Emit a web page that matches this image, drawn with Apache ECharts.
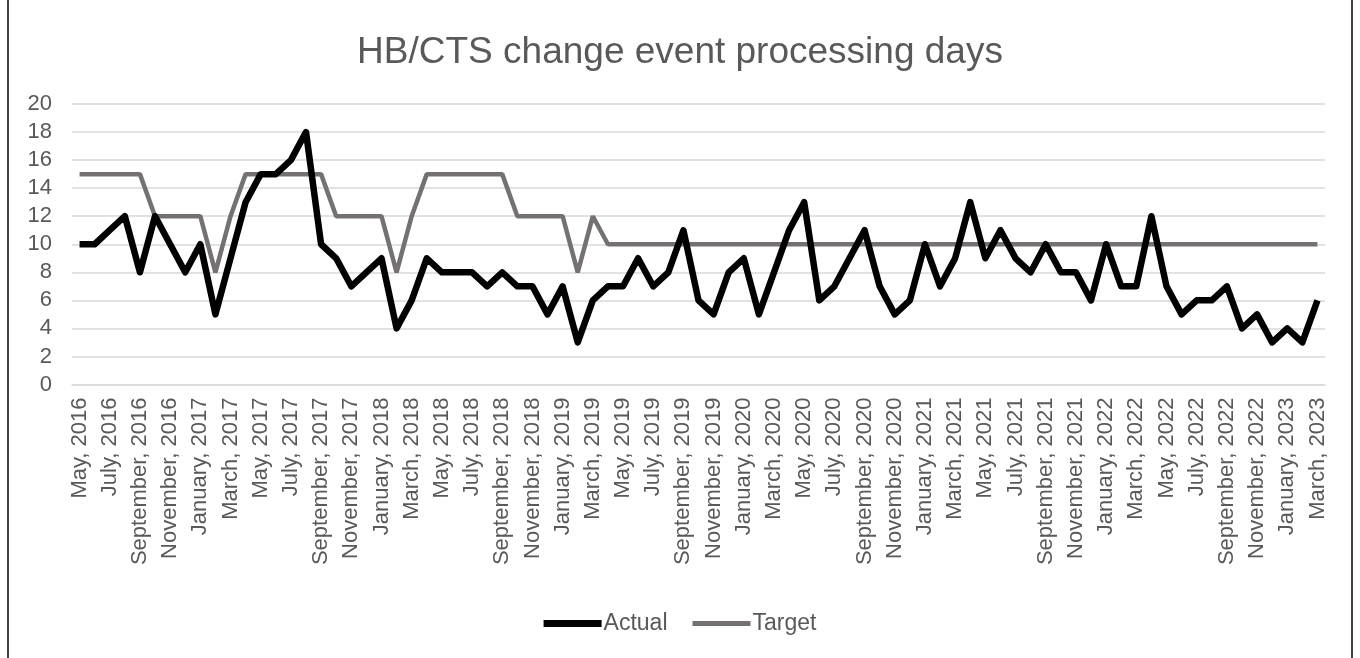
<!DOCTYPE html>
<html>
<head>
<meta charset="utf-8">
<script src="https://cdn.jsdelivr.net/npm/echarts@6/dist/echarts.min.js"></script>
<style>
  html, body { margin: 0; padding: 0; background: #fff; }
  #chart { width: 1360px; height: 658px; }
</style>
</head>
<body>
<div id="chart"></div>
<script>
// months, May 2016 .. March 2023
var months = [
  "May, 2016", "June, 2016", "July, 2016", "August, 2016", "September, 2016", "October, 2016", "November, 2016", "December, 2016",
  "January, 2017", "February, 2017", "March, 2017", "April, 2017", "May, 2017", "June, 2017", "July, 2017", "August, 2017",
  "September, 2017", "October, 2017", "November, 2017", "December, 2017",
  "January, 2018", "February, 2018", "March, 2018", "April, 2018", "May, 2018", "June, 2018", "July, 2018", "August, 2018",
  "September, 2018", "October, 2018", "November, 2018", "December, 2018",
  "January, 2019", "February, 2019", "March, 2019", "April, 2019", "May, 2019", "June, 2019", "July, 2019", "August, 2019",
  "September, 2019", "October, 2019", "November, 2019", "December, 2019",
  "January, 2020", "February, 2020", "March, 2020", "April, 2020", "May, 2020", "June, 2020", "July, 2020", "August, 2020",
  "September, 2020", "October, 2020", "November, 2020", "December, 2020",
  "January, 2021", "February, 2021", "March, 2021", "April, 2021", "May, 2021", "June, 2021", "July, 2021", "August, 2021",
  "September, 2021", "October, 2021", "November, 2021", "December, 2021",
  "January, 2022", "February, 2022", "March, 2022", "April, 2022", "May, 2022", "June, 2022", "July, 2022", "August, 2022",
  "September, 2022", "October, 2022", "November, 2022", "December, 2022",
  "January, 2023", "February, 2023", "March, 2023"
];

var actual = [
  10, 10, 11, 12, 8, 12, 10, 8, 10, 5,
  9, 13, 15, 15, 16, 18, 10, 9, 7, 8,
  9, 4, 6, 9, 8, 8, 8, 7, 8, 7,
  7, 5, 7, 3, 6, 7, 7, 9, 7, 8,
  11, 6, 5, 8, 9, 5, 8, 11, 13, 6,
  7, 9, 11, 7, 5, 6, 10, 7, 9, 13,
  9, 11, 9, 8, 10, 8, 8, 6, 10, 7,
  7, 12, 7, 5, 6, 6, 7, 4, 5, 3,
  4, 3, 6
];

var target = [
  15, 15, 15, 15, 15, 12, 12, 12, 12, 8,
  12, 15, 15, 15, 15, 15, 15, 12, 12, 12,
  12, 8, 12, 15, 15, 15, 15, 15, 15, 12,
  12, 12, 12, 8, 12, 10, 10, 10, 10, 10,
  10, 10, 10, 10, 10, 10, 10, 10, 10, 10,
  10, 10, 10, 10, 10, 10, 10, 10, 10, 10,
  10, 10, 10, 10, 10, 10, 10, 10, 10, 10,
  10, 10, 10, 10, 10, 10, 10, 10, 10, 10,
  10, 10, 10
];

var chart = echarts.init(document.getElementById("chart"));

var option = {
  backgroundColor: "#fff",
  animation: false,
  title: {
    text: "HB/CTS change event processing days",
    left: "center",
    top: 29,
    textStyle: { fontFamily: "Liberation Sans", fontSize: 37, fontWeight: "normal", color: "#595959" }
  },
  legend: {
    top: 607,
    left: "center",
    itemWidth: 58,
    itemHeight: 14,
    itemGap: 25,
    textStyle: { fontFamily: "Liberation Sans", fontSize: 23, color: "#595959", padding: [0, 0, 0, -3] },
    data: [
      { name: "Actual", icon: "path://M0,0H58V7H0Z", itemStyle: { color: "#000" } },
      { name: "Target", icon: "path://M0,0H58V5H0Z", itemStyle: { color: "#767171" } }
    ]
  },
  grid: { left: 72, right: 35, top: 104, bottom: 273.5 },
  xAxis: {
    type: "category",
    data: months,
    boundaryGap: true,
    axisLine: { lineStyle: { color: "#d9d9d9", width: 1.5 } },
    axisTick: { show: false },
    axisLabel: {
      interval: 1,
      rotate: 90,
      margin: 13,
      fontFamily: "Liberation Sans",
      fontSize: 22,
      color: "#595959"
    }
  },
  yAxis: {
    type: "value",
    min: 0,
    max: 20,
    interval: 2,
    axisLine: { show: false },
    axisTick: { show: false },
    axisLabel: { margin: 20, fontFamily: "Liberation Sans", fontSize: 22, color: "#595959" },
    splitLine: { lineStyle: { color: "#d9d9d9", width: 1.5 } }
  },
  series: [
    {
      name: "Actual",
      type: "line",
      data: actual,
      symbol: "none",
      z: 3,
      itemStyle: { color: "#000" },
      lineStyle: { color: "#000", width: 6.5, join: "round" }
    },
    {
      name: "Target",
      type: "line",
      data: target,
      symbol: "none",
      z: 2,
      itemStyle: { color: "#767171" },
      lineStyle: { color: "#767171", width: 4.5 }
    }
  ],
  graphic: [
    { type: "line", shape: { x1: 8, y1: 0, x2: 8, y2: 658 }, style: { stroke: "#404040", lineWidth: 2 } },
    { type: "line", shape: { x1: 1352, y1: 0, x2: 1352, y2: 658 }, style: { stroke: "#404040", lineWidth: 2 } }
  ]
};

chart.setOption(option);
</script>
</body>
</html>
